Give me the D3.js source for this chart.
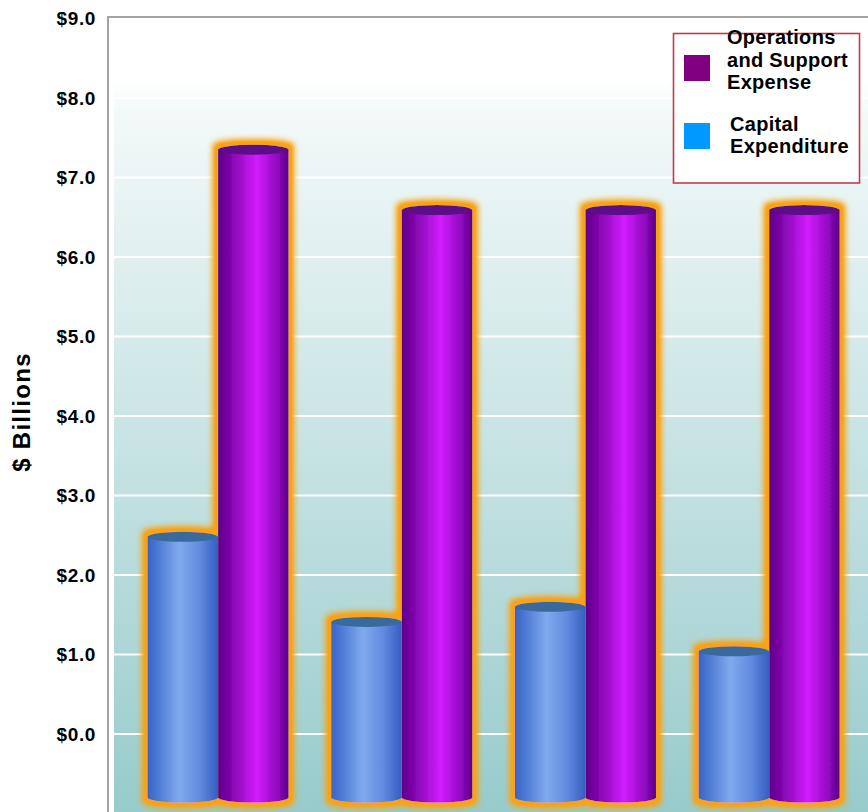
<!DOCTYPE html>
<html>
<head>
<meta charset="utf-8">
<script src="https://cdn.jsdelivr.net/npm/d3@7"></script>
<style>
  html, body { margin: 0; padding: 0; background: #ffffff; }
  svg { display: block; }
  text { font-family: "Liberation Sans", Arial, Helvetica, sans-serif; font-weight: bold; fill: #000; }
</style>
</head>
<body>
<svg id="chart" width="868" height="812"></svg>
<script>
// ---- data ----
const categories = ["Period 1", "Period 2", "Period 3", "Period 4"];
const seriesNames = ["Capital Expenditure", "Operations and Support Expense"];
const capitalExpenditure = [2.48, 1.41, 1.60, 1.04];
const operationsSupport = [7.35, 6.59, 6.59, 6.59];
const yTickValues = [0, 1, 2, 3, 4, 5, 6, 7, 8, 9];
const yTickLabels = ["$0.0", "$1.0", "$2.0", "$3.0", "$4.0", "$5.0", "$6.0", "$7.0", "$8.0", "$9.0"];
const legendLabels = [["Operations", "and Support", "Expense"], ["Capital", "Expenditure"]];
const barBase = -0.8; // 3D floor sits below the $0.0 line

// ---- setup ----
const W = 868, H = 812;
const svg = d3.select("#chart");
const defs = svg.append("defs");

const y = d3.scaleLinear().domain([0, 9]).range([734, 18.5]);
const x0 = d3.scaleBand().domain(categories).range([126.2, 861]).paddingInner(0.232).paddingOuter(0.116);
const x1 = d3.scaleBand().domain(seriesNames).range([0, x0.bandwidth()]);

// background gradient
const bg = defs.append("linearGradient").attr("id", "bgGrad")
  .attr("gradientUnits", "userSpaceOnUse").attr("x1", 0).attr("y1", 17).attr("x2", 0).attr("y2", H);
bg.append("stop").attr("offset", 0).attr("stop-color", "#ffffff");
bg.append("stop").attr("offset", 0.08).attr("stop-color", "#ffffff");
bg.append("stop").attr("offset", 0.12).attr("stop-color", "#f3f9f9");
bg.append("stop").attr("offset", 1).attr("stop-color", "#98cbcc");

// cylinder gradients
function cylGrad(id, stops) {
  const g = defs.append("linearGradient").attr("id", id).attr("x1", 0).attr("y1", 0).attr("x2", 1).attr("y2", 0);
  stops.forEach(s => g.append("stop").attr("offset", s[0]).attr("stop-color", s[1]));
}
cylGrad("blueCyl", [[0, "#3864c4"], [0.15, "#4d7ad4"], [0.45, "#80aaee"], [0.75, "#5f8ade"], [0.95, "#3d66c6"], [1, "#3560c0"]]);
cylGrad("purpleCyl", [[0, "#5e0088"], [0.15, "#7a04a6"], [0.55, "#d21cff"], [0.85, "#8e08bd"], [1, "#5a0086"]]);

// glow filter
const f = defs.append("filter").attr("id", "glow").attr("x", "-30%").attr("y", "-10%").attr("width", "160%").attr("height", "120%");
f.append("feMorphology").attr("in", "SourceAlpha").attr("operator", "dilate").attr("radius", 5).attr("result", "dil");
f.append("feGaussianBlur").attr("in", "dil").attr("stdDeviation", 3.2).attr("result", "blur");
f.append("feComponentTransfer").attr("in", "blur").attr("result", "blur2")
  .append("feFuncA").attr("type", "linear").attr("slope", 1.3).attr("intercept", 0);
f.append("feFlood").attr("flood-color", "#f8a214").attr("result", "col");
f.append("feComposite").attr("in", "col").attr("in2", "blur2").attr("operator", "in").attr("result", "glowc");
const fm = f.append("feMerge");
fm.append("feMergeNode").attr("in", "glowc");
fm.append("feMergeNode").attr("in", "SourceGraphic");

// plot background
svg.append("rect").attr("x", 114).attr("y", 17).attr("width", W - 114).attr("height", H - 17).attr("fill", "url(#bgGrad)");

// frame
svg.append("path").attr("d", `M108,${H} L108,17 L${W},17`).attr("fill", "none").attr("stroke", "#a3a3a3").attr("stroke-width", 2);

// gridlines
svg.append("g").selectAll("line").data(yTickValues.filter(v => v < 9)).join("line")
  .attr("x1", 114).attr("x2", W).attr("y1", d => y(d)).attr("y2", d => y(d))
  .attr("stroke", "#ffffff").attr("stroke-width", 2);

// y axis labels via d3 axis
const yAxis = d3.axisLeft(y).tickValues(yTickValues).tickFormat((d, i) => yTickLabels[i]).tickSize(0).tickPadding(0);
const ag = svg.append("g").attr("transform", "translate(96,0)").call(yAxis);
ag.select(".domain").remove();
ag.selectAll("text").attr("font-size", 19).attr("letter-spacing", 0.6)
  .attr("font-family", '"Liberation Sans", Arial, sans-serif').attr("font-weight", "bold").attr("fill", "#000");

// y title
svg.append("text").attr("transform", "translate(30,412) rotate(-90)")
  .attr("text-anchor", "middle").attr("font-size", 24).attr("letter-spacing", 1.3).text("$ Billions");

// bars
const rows = categories.map((c, i) => ({ cat: c, vals: [capitalExpenditure[i], operationsSupport[i]] }));
const ry = 5;
const fills = ["url(#blueCyl)", "url(#purpleCyl)"];
const tops = ["#376a9d", "#5c0a88"];

const groups = svg.append("g").selectAll("g").data(rows).join("g")
  .attr("transform", d => `translate(${x0(d.cat)},0)`)
  .attr("filter", "url(#glow)");

groups.each(function (d) {
  const g = d3.select(this);
  d.vals.forEach((v, k) => {
    const xs = x1(seriesNames[k]);
    const w = x1.bandwidth();
    const rx = w / 2;
    const yt = y(v), yb = y(barBase);
    g.append("path")
      .attr("d", `M${xs},${yt} L${xs},${yb} A${rx},${ry} 0 0 0 ${xs + w},${yb} L${xs + w},${yt} Z`)
      .attr("fill", fills[k]);
    g.append("ellipse").attr("cx", xs + rx).attr("cy", yt).attr("rx", rx).attr("ry", ry).attr("fill", tops[k]);
  });
});

// legend
const lg = svg.append("g");
lg.append("rect").attr("x", 673.5).attr("y", 33.5).attr("width", 186).attr("height", 149.5)
  .attr("fill", "#ffffff").attr("stroke", "#c23b4a").attr("stroke-width", 1.6);
const legendItems = [
  { color: "#800080", sy: 55, tx: 727, baselines: [44, 67, 89], lines: legendLabels[0] },
  { color: "#0099ff", sy: 123, tx: 730, baselines: [131, 153], lines: legendLabels[1] }
];
legendItems.forEach(it => {
  lg.append("rect").attr("x", 684).attr("y", it.sy).attr("width", 26).attr("height", 26).attr("fill", it.color);
  it.lines.forEach((t, i) => {
    lg.append("text").attr("x", it.tx).attr("y", it.baselines[i]).attr("font-size", 20).attr("letter-spacing", 0.3).text(t);
  });
});
</script>
</body>
</html>
